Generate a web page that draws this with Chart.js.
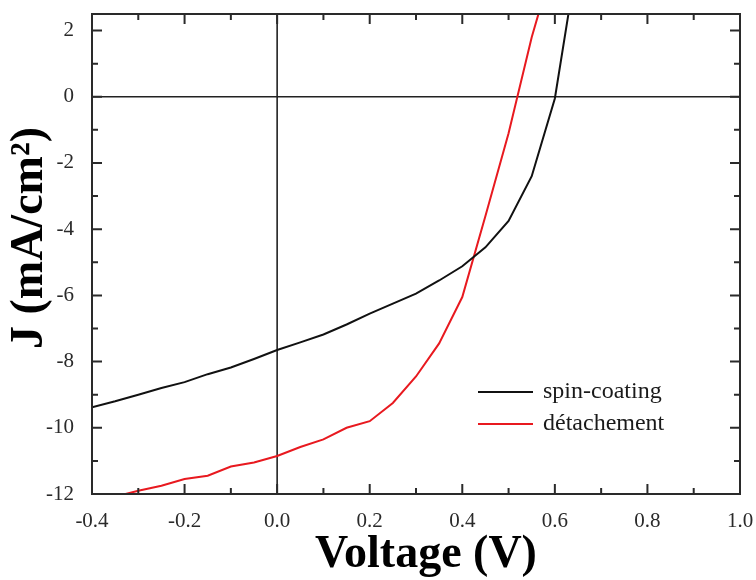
<!DOCTYPE html>
<html><head><meta charset="utf-8">
<script src="https://cdn.jsdelivr.net/npm/chart.js@4.4.1/dist/chart.umd.min.js"></script>
<style>html,body{margin:0;padding:0;background:#fff}</style>
</head><body>
<canvas id="c" width="756" height="580"></canvas>
<script>
// Tick values / labels
const xTickValues = [-0.4, -0.2, 0.0, 0.2, 0.4, 0.6, 0.8, 1.0];
const yTickValues = [2, 0, -2, -4, -6, -8, -10, -12];
const xTitle = 'Voltage (V)';
const yTitle = 'J (mA/cm²)';
const seriesNames = ['spin-coating', 'détachement'];

// Series: spin-coating
const spinV = [-0.4, -0.35, -0.3, -0.25, -0.2, -0.15, -0.1, -0.05, 0.0, 0.05, 0.1, 0.15, 0.2, 0.25, 0.3, 0.35, 0.4, 0.45, 0.5, 0.55, 0.6, 0.65];
const spinJ = [-9.38, -9.2, -9.0, -8.8, -8.62, -8.38, -8.18, -7.92, -7.65, -7.42, -7.18, -6.88, -6.55, -6.25, -5.95, -5.55, -5.12, -4.55, -3.75, -2.4, -0.05, 4.3];

// Series: détachement
const detV = [-0.35, -0.3, -0.25, -0.2, -0.15, -0.1, -0.05, 0.0, 0.05, 0.1, 0.15, 0.2, 0.25, 0.3, 0.35, 0.4, 0.45, 0.5, 0.55, 0.6];
const detJ = [-12.08, -11.9, -11.75, -11.55, -11.45, -11.17, -11.05, -10.85, -10.58, -10.35, -10.0, -9.8, -9.25, -8.45, -7.45, -6.05, -3.6, -1.1, 1.8, 4.2];

const colors = ['#111111', '#e8191f'];
const serif = "'Liberation Serif', 'Times New Roman', serif";

const toPts = (xs, ys) => xs.map((v, i) => ({x: v, y: ys[i]}));

const zeroPad = s => { s.paddingTop = 0; s.paddingBottom = 0; s.paddingLeft = 0; s.paddingRight = 0; };

const decor = {
  id: 'decor',
  beforeDatasetsDraw(chart) {
    const {ctx, chartArea: a, scales: {x, y}} = chart;
    ctx.save();
    ctx.strokeStyle = '#222';
    ctx.lineWidth = 1.6;
    const x0 = x.getPixelForValue(0), y0 = y.getPixelForValue(0);
    ctx.beginPath();
    ctx.moveTo(x0, a.top); ctx.lineTo(x0, a.bottom);
    ctx.moveTo(a.left, y0); ctx.lineTo(a.right, y0);
    ctx.stroke();
    ctx.restore();
  },
  afterDatasetsDraw(chart) {
    const {ctx, chartArea: a, scales: {x, y}} = chart;
    ctx.save();
    ctx.strokeStyle = '#2a2a2a';
    ctx.lineWidth = 2;
    ctx.strokeRect(a.left, a.top, a.right - a.left, a.bottom - a.top);
    const majL = 10, minL = 6;
    ctx.beginPath();
    const xs = xTickValues;
    for (let i = 0; i < xs.length; i++) {
      const p = x.getPixelForValue(xs[i]);
      ctx.moveTo(p, a.bottom); ctx.lineTo(p, a.bottom - majL);
      ctx.moveTo(p, a.top); ctx.lineTo(p, a.top + majL);
      if (i < xs.length - 1) {
        const m = x.getPixelForValue((xs[i] + xs[i + 1]) / 2);
        ctx.moveTo(m, a.bottom); ctx.lineTo(m, a.bottom - minL);
        ctx.moveTo(m, a.top); ctx.lineTo(m, a.top + minL);
      }
    }
    const ys = yTickValues;
    for (let i = 0; i < ys.length; i++) {
      const p = y.getPixelForValue(ys[i]);
      ctx.moveTo(a.left, p); ctx.lineTo(a.left + majL, p);
      ctx.moveTo(a.right, p); ctx.lineTo(a.right - majL, p);
      if (i < ys.length - 1) {
        const m = y.getPixelForValue((ys[i] + ys[i + 1]) / 2);
        ctx.moveTo(a.left, m); ctx.lineTo(a.left + minL, m);
        ctx.moveTo(a.right, m); ctx.lineTo(a.right - minL, m);
      }
    }
    ctx.stroke();

    // legend
    const lx1 = 478, lx2 = 533, ly = [392, 424];
    ctx.font = '24px ' + serif;
    ctx.textBaseline = 'middle';
    ctx.textAlign = 'left';
    chart.data.datasets.forEach((ds, i) => {
      ctx.strokeStyle = ds.borderColor;
      ctx.lineWidth = 2;
      ctx.beginPath(); ctx.moveTo(lx1, ly[i]); ctx.lineTo(lx2, ly[i]); ctx.stroke();
      ctx.fillStyle = '#1a1a1a';
      ctx.fillText(ds.label, 543, ly[i]);
    });

    // axis titles
    ctx.fillStyle = '#000';
    ctx.font = 'bold 46px ' + serif;
    ctx.textAlign = 'center';
    ctx.textBaseline = 'alphabetic';
    ctx.fillText(xTitle, 426, 567);
    ctx.save();
    ctx.translate(42, 238);
    ctx.rotate(-Math.PI / 2);
    ctx.fillText(yTitle, 0, 0);
    ctx.restore();
    ctx.restore();
  }
};

new Chart(document.getElementById('c'), {
  type: 'line',
  data: {
    datasets: [
      {label: seriesNames[0], data: toPts(spinV, spinJ), borderColor: colors[0]},
      {label: seriesNames[1], data: toPts(detV, detJ), borderColor: colors[1]}
    ]
  },
  options: {
    responsive: false,
    animation: false,
    layout: {padding: {top: 14, right: 16, left: 0, bottom: 0}},
    elements: {
      line: {borderWidth: 2, tension: 0, fill: false},
      point: {radius: 0, hoverRadius: 0}
    },
    datasets: {line: {clip: 0}},
    plugins: {legend: {display: false}, tooltip: {enabled: false}},
    scales: {
      x: {
        type: 'linear', min: -0.4, max: 1.0,
        afterBuildTicks: s => { s.ticks = xTickValues.map(v => ({value: v})); },
        afterFit: s => { s.height = 86; zeroPad(s); },
        grid: {display: false},
        border: {display: false},
        ticks: {
          padding: 7, color: '#2a2a2a', maxRotation: 0, autoSkip: false,
          font: {family: serif, size: 21},
          callback: v => Number(v).toFixed(1)
        }
      },
      y: {
        type: 'linear', min: -12, max: 2.5,
        afterBuildTicks: s => { s.ticks = yTickValues.map(v => ({value: v})); },
        afterFit: s => { s.width = 92; zeroPad(s); },
        grid: {display: false},
        border: {display: false},
        ticks: {
          padding: 10, color: '#2a2a2a', autoSkip: false,
          font: {family: serif, size: 21},
          callback: v => String(v)
        }
      }
    }
  },
  plugins: [decor]
});
</script>
</body></html>
